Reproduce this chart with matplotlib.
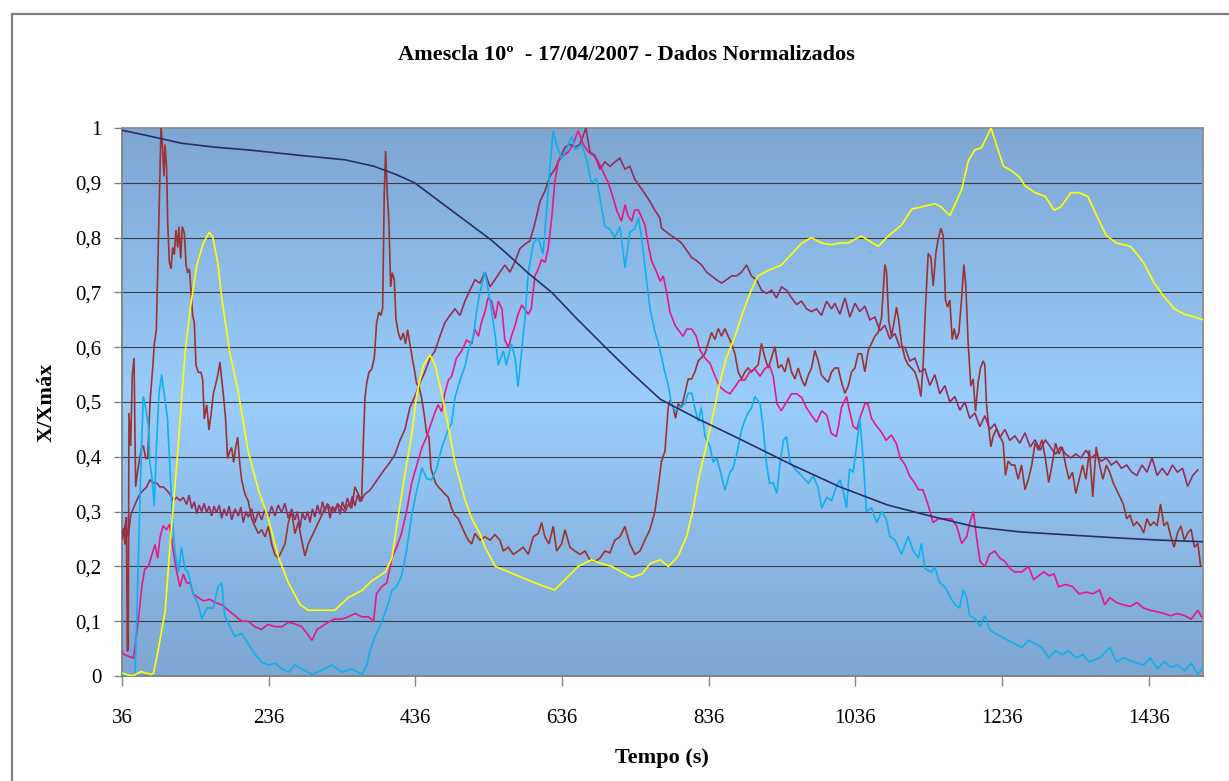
import numpy as np
import matplotlib
matplotlib.use("Agg")
import matplotlib.pyplot as plt
from matplotlib.patches import Rectangle
from matplotlib.colors import LinearSegmentedColormap

plt.rcParams['font.family'] = ['Liberation Serif', 'DejaVu Serif']

# ---------------- data (time in s, normalised value) ----------------
title = "Amescla 10º  - 17/04/2007 - Dados Normalizados"
x_label = "Tempo (s)"
y_label = "X/Xmáx"
x_ticks = [36, 236, 436, 636, 836, 1036, 1236, 1436]
y_ticks = [0, 0.1, 0.2, 0.3, 0.4, 0.5, 0.6, 0.7, 0.8, 0.9, 1.0]
y_tick_labels = ["0", "0,1", "0,2", "0,3", "0,4", "0,5", "0,6", "0,7", "0,8", "0,9", "1"]

navy = [(36, 0.996), (71, 0.986), (118, 0.972), (163, 0.965), (208, 0.96), (279, 0.95),
        (340, 0.942), (380, 0.93), (410, 0.915), (435, 0.9), (460, 0.875), (490, 0.845),
        (517, 0.818), (540, 0.795), (563, 0.768), (590, 0.735), (622, 0.70), (654, 0.655),
        (695, 0.60), (731, 0.553), (770, 0.505), (820, 0.47), (876, 0.434), (950, 0.385),
        (1015, 0.345), (1080, 0.312), (1144, 0.29), (1200, 0.272), (1260, 0.263),
        (1320, 0.258), (1393, 0.252), (1450, 0.248), (1510, 0.245)]

yellow = [(36, 0.005), (50, 0.0), (62, 0.008), (76, 0.003), (79, 0.005), (85, 0.045), (95, 0.12),
          (101, 0.23), (110.6, 0.385), (117, 0.5), (122, 0.59), (129, 0.67), (138, 0.75),
          (147, 0.79), (155, 0.81), (160, 0.8), (167, 0.75), (172, 0.69), (183, 0.59),
          (195, 0.515), (208, 0.41), (222, 0.34), (235, 0.29), (249, 0.218), (263, 0.17),
          (279, 0.13), (290, 0.12), (299, 0.12), (326, 0.12), (344.5, 0.143), (363, 0.156),
          (376, 0.173), (395, 0.19), (404, 0.215), (413, 0.295), (422, 0.37), (431, 0.44),
          (438, 0.515), (447, 0.567), (456, 0.586), (463, 0.567), (472, 0.515), (481, 0.456),
          (490, 0.39), (504, 0.32), (513, 0.287), (524, 0.26), (531, 0.235), (545, 0.2),
          (563, 0.19), (581, 0.18), (599, 0.17), (613, 0.163), (626, 0.157), (640, 0.176),
          (658, 0.2), (676, 0.212), (690, 0.205), (704, 0.2), (717, 0.19), (731, 0.18),
          (745, 0.186), (756, 0.205), (770, 0.212), (781, 0.2), (794, 0.218), (806, 0.255),
          (815, 0.306), (822, 0.358), (831, 0.41), (842, 0.476), (851, 0.535), (860, 0.58),
          (872, 0.62), (883, 0.665), (894, 0.704), (903, 0.73), (917, 0.74), (935, 0.75),
          (949, 0.77), (963, 0.79), (976, 0.80), (990, 0.79), (1003, 0.787), (1015, 0.79),
          (1026, 0.79), (1044, 0.803), (1067, 0.784), (1081, 0.803), (1099, 0.823),
          (1113, 0.852), (1126, 0.856), (1144, 0.862), (1153, 0.856), (1165, 0.84),
          (1181, 0.888), (1190, 0.94), (1199, 0.96), (1208, 0.964), (1221, 1.0), (1231, 0.958),
          (1238, 0.93), (1249, 0.922), (1260, 0.91), (1267, 0.895), (1281, 0.882), (1295, 0.875),
          (1307, 0.85), (1316, 0.856), (1330, 0.882), (1341, 0.882), (1353, 0.875),
          (1364, 0.843), (1378, 0.804), (1392, 0.79), (1411, 0.784), (1420, 0.77),
          (1429, 0.754), (1443, 0.718), (1457, 0.692), (1471, 0.67), (1485, 0.66),
          (1499, 0.655), (1510, 0.65)]

cyan = [(36, 0.0), (45, 0.0), (53.7, 0.0), (56, 0.1), (59.2, 0.26), (62, 0.39), (65, 0.51),
        (68, 0.49), (72, 0.456), (74, 0.39), (77, 0.36), (80, 0.31), (83, 0.42), (86.5, 0.515),
        (90, 0.55), (95, 0.50), (98, 0.47), (101, 0.39), (104.6, 0.29), (108, 0.228),
        (113, 0.19), (117, 0.235), (122, 0.195), (126, 0.19), (133, 0.15), (140, 0.13),
        (145, 0.104), (151.5, 0.124), (160.5, 0.124), (167, 0.163), (172, 0.17), (176, 0.11),
        (183, 0.09), (190, 0.072), (199, 0.078), (208, 0.059), (217, 0.04), (226, 0.026),
        (235, 0.02), (245, 0.023), (254, 0.013), (263, 0.007), (272, 0.02), (281, 0.013),
        (295, 0.003), (308, 0.01), (322, 0.02), (336, 0.007), (349, 0.013), (363, 0.003),
        (370, 0.02), (374, 0.046), (381, 0.072), (390, 0.098), (397, 0.124), (404, 0.156),
        (410.5, 0.163), (417, 0.182), (424, 0.228), (431, 0.293), (438, 0.339), (445, 0.38),
        (451.5, 0.36), (458, 0.358), (465, 0.378), (472, 0.417), (479, 0.443), (485.5, 0.462),
        (490, 0.508), (497, 0.54), (504, 0.567), (508, 0.593), (515, 0.619), (520, 0.67),
        (524, 0.70), (531, 0.737), (538, 0.684), (545, 0.62), (549, 0.567), (556, 0.593),
        (560, 0.567), (567, 0.606), (572, 0.58), (576, 0.528), (581, 0.593), (585, 0.646),
        (590, 0.737), (597, 0.79), (603.5, 0.80), (610, 0.77), (615, 0.848), (619.5, 0.93),
        (624, 0.995), (628.6, 0.97), (635, 0.945), (642, 0.96), (649, 0.985), (654, 0.96),
        (663, 0.97), (670, 0.94), (676, 0.90), (683, 0.908), (688, 0.87), (694.5, 0.82),
        (701, 0.816), (708, 0.80), (715, 0.82), (722, 0.745), (728.5, 0.81), (735, 0.816),
        (740, 0.836), (744.5, 0.80), (751, 0.725), (756, 0.67), (763, 0.626), (767, 0.61),
        (772, 0.58), (776, 0.555), (781, 0.53), (785, 0.497), (790, 0.484), (797, 0.49),
        (803.5, 0.497), (808, 0.516), (813, 0.516), (817, 0.49), (822, 0.464), (826, 0.49),
        (831, 0.437), (838, 0.418), (842, 0.39), (847, 0.398), (851, 0.378), (858, 0.339),
        (865, 0.372), (869, 0.378), (874, 0.404), (881, 0.45), (888, 0.476), (894.5, 0.49),
        (899, 0.51), (906, 0.497), (910, 0.456), (915, 0.385), (919, 0.352), (924, 0.352),
        (929, 0.333), (933, 0.385), (938, 0.43), (942, 0.437), (947, 0.39), (953.5, 0.378),
        (963, 0.365), (972, 0.352), (978.5, 0.365), (985, 0.345), (990, 0.306), (997, 0.326),
        (1003.5, 0.32), (1010, 0.345), (1015, 0.358), (1019, 0.34), (1024, 0.307),
        (1028, 0.378), (1033, 0.372), (1038, 0.424), (1042, 0.47), (1047, 0.39), (1051, 0.3),
        (1058, 0.307), (1065, 0.28), (1072, 0.3), (1078, 0.287), (1083, 0.255), (1090, 0.248),
        (1099, 0.222), (1108, 0.255), (1115, 0.228), (1122, 0.215), (1126, 0.242),
        (1131, 0.196), (1140, 0.19), (1144, 0.2), (1151, 0.17), (1158, 0.163), (1165, 0.144),
        (1172, 0.13), (1178, 0.124), (1183, 0.157), (1187.5, 0.144), (1192, 0.11),
        (1199, 0.104), (1206, 0.09), (1212.5, 0.11), (1219, 0.085), (1226, 0.078),
        (1235, 0.072), (1244, 0.065), (1253, 0.059), (1263, 0.052), (1272, 0.065),
        (1281, 0.059), (1290, 0.052), (1300, 0.033), (1309, 0.046), (1318, 0.039),
        (1327, 0.046), (1337, 0.033), (1346, 0.039), (1355, 0.026), (1369, 0.033),
        (1383, 0.052), (1392, 0.026), (1401, 0.033), (1415, 0.026), (1429, 0.02),
        (1438, 0.033), (1448, 0.013), (1457, 0.026), (1466, 0.016), (1475, 0.02),
        (1485, 0.01), (1494, 0.023), (1503, 0.003), (1510, 0.016)]

magenta = [(36, 0.045), (38, 0.04), (44.6, 0.036), (51.5, 0.033), (53.7, 0.052), (58, 0.098),
           (63, 0.163), (67, 0.195), (72, 0.2), (76.5, 0.22), (81, 0.24), (84.6, 0.215),
           (88, 0.254), (92, 0.274), (97, 0.267), (101, 0.277), (106, 0.228), (110.6, 0.19),
           (115, 0.163), (119.6, 0.186), (124, 0.17), (129, 0.17), (133, 0.15), (140, 0.143),
           (147, 0.137), (156, 0.14), (163, 0.134), (172, 0.13), (181, 0.12), (190, 0.11),
           (199, 0.1), (208, 0.1), (217, 0.09), (226, 0.085), (235, 0.094), (245, 0.09),
           (254, 0.09), (263, 0.098), (272, 0.095), (281, 0.09), (288, 0.078), (295, 0.065),
           (302, 0.085), (308, 0.09), (317, 0.098), (326, 0.104), (336, 0.104), (344.5, 0.108),
           (354, 0.114), (363, 0.108), (372, 0.108), (379, 0.1), (383, 0.15), (390, 0.163),
           (397, 0.17), (404, 0.215), (410.5, 0.235), (417, 0.26), (424, 0.3), (431, 0.352),
           (438, 0.385), (445, 0.417), (451.5, 0.437), (458, 0.463), (463, 0.482), (467, 0.495),
           (472, 0.482), (476, 0.515), (481, 0.54), (485.5, 0.547), (492, 0.58), (499, 0.593),
           (506, 0.613), (513, 0.606), (517, 0.633), (522, 0.62), (526, 0.645), (531, 0.665),
           (535, 0.69), (540, 0.684), (545, 0.652), (549, 0.684), (554, 0.67), (558, 0.613),
           (563, 0.6), (567, 0.62), (572, 0.64), (576, 0.66), (581, 0.677), (585, 0.67),
           (590, 0.66), (594, 0.67), (599, 0.73), (603.5, 0.742), (608, 0.76), (613, 0.755),
           (617, 0.78), (622, 0.836), (626, 0.9), (631, 0.94), (638, 0.95), (644.6, 0.956),
           (651, 0.97), (658, 0.995), (665, 0.97), (672, 0.956), (679, 0.95), (685, 0.94),
           (692, 0.92), (699, 0.9), (704, 0.88), (710.5, 0.85), (717, 0.83), (722, 0.86),
           (726, 0.84), (731, 0.83), (735, 0.85), (740, 0.85), (745, 0.836), (749, 0.823),
           (754, 0.784), (758, 0.758), (765, 0.737), (770, 0.72), (774, 0.73), (779, 0.698),
           (783, 0.665), (790, 0.64), (797, 0.627), (801, 0.62), (806, 0.633), (813, 0.633),
           (819, 0.62), (824, 0.595), (831, 0.58), (838, 0.57), (844.6, 0.547), (851, 0.528),
           (858, 0.52), (865, 0.515), (872, 0.528), (878, 0.54), (885, 0.54), (892, 0.555),
           (899, 0.56), (906, 0.547), (912, 0.56), (919, 0.567), (924, 0.547), (929, 0.497),
           (935, 0.484), (942, 0.5), (949, 0.515), (956, 0.515), (963, 0.508), (969, 0.49),
           (976, 0.476), (983, 0.463), (990, 0.484), (997, 0.476), (1003, 0.443), (1010, 0.437),
           (1013, 0.456), (1017, 0.49), (1024, 0.51), (1028, 0.484), (1033, 0.456), (1038, 0.45),
           (1042, 0.47), (1049, 0.497), (1053, 0.497), (1058, 0.47), (1065, 0.456), (1072, 0.444),
           (1078, 0.43), (1085, 0.44), (1092, 0.424), (1097, 0.398), (1104, 0.385), (1110, 0.365),
           (1117, 0.352), (1122, 0.34), (1128, 0.34), (1135, 0.313), (1142, 0.28), (1149, 0.287),
           (1158, 0.287), (1167, 0.287), (1174, 0.274), (1181, 0.242), (1188, 0.255),
           (1192, 0.28), (1197, 0.3), (1201, 0.255), (1206, 0.209), (1212.5, 0.2), (1219, 0.222),
           (1226, 0.228), (1233, 0.215), (1240, 0.209), (1247, 0.196), (1253, 0.19),
           (1263, 0.19), (1272, 0.2), (1279, 0.176), (1286, 0.183), (1293, 0.19), (1300, 0.183),
           (1307, 0.186), (1313, 0.163), (1323, 0.167), (1332, 0.163), (1341, 0.15),
           (1351, 0.153), (1360, 0.15), (1369, 0.157), (1376, 0.13), (1383, 0.143),
           (1392, 0.134), (1401, 0.13), (1411, 0.127), (1420, 0.134), (1429, 0.124),
           (1438, 0.12), (1448, 0.117), (1457, 0.114), (1466, 0.11), (1475, 0.114),
           (1485, 0.11), (1494, 0.104), (1503, 0.12), (1508, 0.108)]

maroon = [(36, 0.25), (37.8, 0.26), (41, 0.28), (44.6, 0.254), (47.8, 0.293), (51.5, 0.306),
          (56, 0.32), (60.5, 0.332), (65.1, 0.339), (69.6, 0.345), (74.2, 0.358), (78.7, 0.352),
          (83.3, 0.352), (87.8, 0.345), (92.4, 0.345), (96.9, 0.339), (101.4, 0.332),
          (106, 0.32), (110.5, 0.326), (115.1, 0.32), (119.6, 0.326), (124.2, 0.313),
          (127.5, 0.33), (131, 0.306), (134.5, 0.318), (137.8, 0.296), (141, 0.312),
          (144.6, 0.3), (148, 0.315), (151.4, 0.298), (154.8, 0.31), (158.2, 0.292),
          (161.5, 0.31), (165, 0.298), (168.5, 0.312), (171.9, 0.288), (175.3, 0.305),
          (178.7, 0.292), (182, 0.31), (185.5, 0.285), (190, 0.305), (194.6, 0.292),
          (198, 0.308), (201.4, 0.28), (204.8, 0.3), (208.2, 0.29), (212.8, 0.305),
          (217.3, 0.28), (221.9, 0.3), (226.4, 0.285), (231, 0.305), (235.5, 0.288),
          (240, 0.31), (244.6, 0.292), (249, 0.312), (253.7, 0.298), (258, 0.315),
          (262.8, 0.288), (267.3, 0.305), (271.9, 0.285), (275, 0.3), (278.7, 0.27),
          (282, 0.298), (285.5, 0.285), (289, 0.3), (292.3, 0.28), (295.7, 0.305),
          (299.1, 0.29), (302.5, 0.312), (306, 0.295), (309.4, 0.318), (312.7, 0.3),
          (316, 0.315), (319.6, 0.288), (323, 0.31), (326.4, 0.298), (329.8, 0.315),
          (333.2, 0.295), (336.6, 0.318), (340, 0.305), (343.4, 0.325), (346.8, 0.31),
          (350.2, 0.328), (353.6, 0.31), (357, 0.33), (360.5, 0.318),
          (367.3, 0.332), (374.1, 0.339), (380.9, 0.352),
          (387.7, 0.365), (394.5, 0.378), (401.4, 0.39), (408.2, 0.404), (415, 0.43),
          (421.8, 0.45), (428.6, 0.49), (435.4, 0.51), (442.3, 0.535), (449.1, 0.555),
          (455.9, 0.58), (462.7, 0.593), (469.5, 0.62), (476.3, 0.645), (483.1, 0.658),
          (490, 0.67), (496.8, 0.658), (503.6, 0.684), (510.4, 0.704), (517.3, 0.723),
          (524.1, 0.717), (530.9, 0.737), (537.7, 0.71), (544.5, 0.723), (551.3, 0.737),
          (558.1, 0.75), (565, 0.737), (571.8, 0.756), (578.6, 0.78), (585.4, 0.788),
          (592.2, 0.794), (599, 0.826), (605.9, 0.866), (612.7, 0.885), (619.5, 0.912),
          (626.3, 0.925), (633.1, 0.945), (640, 0.965), (646.8, 0.97), (653.6, 0.965),
          (660.4, 0.97), (668.6, 1.0), (674, 0.956), (680.8, 0.95), (687.7, 0.925),
          (694.5, 0.938), (701.3, 0.93), (708.1, 0.938), (714.9, 0.945), (721.7, 0.925),
          (728.5, 0.93), (735.4, 0.906), (742.2, 0.893), (749, 0.88), (755.8, 0.866),
          (762.6, 0.85), (769.4, 0.836), (771.7, 0.817), (778.5, 0.81), (785.4, 0.803),
          (792.2, 0.797), (799, 0.79), (805.8, 0.777), (812.6, 0.764), (819.4, 0.758),
          (826.3, 0.75), (833.1, 0.737), (839.9, 0.73), (846.7, 0.723), (853.5, 0.717),
          (860.3, 0.723), (867.2, 0.73), (874, 0.73), (880.8, 0.737), (887.6, 0.75),
          (894.4, 0.73), (901.2, 0.723), (908, 0.704), (914.9, 0.698), (921.7, 0.704),
          (928.5, 0.69), (935.3, 0.71), (942.1, 0.704), (948.9, 0.69), (955.8, 0.678),
          (962.6, 0.684), (969.4, 0.67), (976.2, 0.665), (983, 0.67), (989.8, 0.658),
          (996.7, 0.684), (1003.5, 0.67), (1008, 0.68), (1014.8, 0.66), (1021.7, 0.69),
          (1028.5, 0.655), (1035.3, 0.68), (1042.1, 0.665), (1048.9, 0.675), (1055.7, 0.65),
          (1062.6, 0.655), (1069.4, 0.63), (1076.2, 0.64), (1083, 0.615), (1089.8, 0.625),
          (1096.6, 0.60), (1103.4, 0.60), (1110.3, 0.575), (1117.1, 0.58), (1123.9, 0.555),
          (1130.7, 0.56), (1137.5, 0.53), (1144.3, 0.55), (1151.2, 0.515), (1158, 0.53),
          (1164.8, 0.50), (1171.6, 0.51), (1178.4, 0.485), (1185.2, 0.5), (1192, 0.47),
          (1198.9, 0.48), (1205.7, 0.455), (1212.5, 0.475), (1219.3, 0.45), (1226.1, 0.46),
          (1233, 0.435), (1239.8, 0.45), (1246.6, 0.43), (1253.4, 0.438), (1260.3, 0.425),
          (1267.3, 0.444), (1274.2, 0.418), (1281.1, 0.431), (1288.1, 0.412), (1295, 0.431),
          (1301.9, 0.418), (1308.9, 0.405), (1315.8, 0.418), (1322.7, 0.405), (1329.6, 0.398),
          (1336.6, 0.405), (1343.5, 0.398), (1350.4, 0.412), (1357.4, 0.398), (1364.3, 0.405),
          (1371.2, 0.392), (1378.2, 0.398), (1385.1, 0.385), (1392, 0.392), (1398.9, 0.379),
          (1405.9, 0.385), (1412.8, 0.372), (1419.8, 0.366), (1426.7, 0.385), (1433.6, 0.372),
          (1440.5, 0.398), (1447.5, 0.366), (1454.4, 0.379), (1461.3, 0.366), (1468.3, 0.385),
          (1475.2, 0.372), (1482.1, 0.379), (1489.1, 0.346), (1496, 0.366), (1502.9, 0.376)]

brown = [(36, 0.25), (38, 0.27), (40.1, 0.24), (42, 0.29), (43.3, 0.045), (44.5, 0.05),
         (45.5, 0.48), (47.8, 0.42), (50.1, 0.55), (52.4, 0.58), (54.6, 0.345), (56.9, 0.37),
         (59.2, 0.39), (62.8, 0.417), (65.1, 0.42), (68.3, 0.397), (71, 0.397), (74.2, 0.5),
         (77.4, 0.554), (80.1, 0.606), (82.8, 0.632), (84.6, 0.736), (86.9, 0.866), (89.2, 1.0),
         (91, 0.97), (93.3, 0.912), (94.6, 0.97), (96.9, 0.925), (98.3, 0.827), (100.5, 0.756),
         (102.8, 0.743), (105.1, 0.782), (107.3, 0.769), (109.6, 0.814), (111.9, 0.782),
         (113.7, 0.82), (116, 0.762), (118.2, 0.82), (121, 0.808), (123.3, 0.75), (125.5, 0.736),
         (127.8, 0.743), (130.1, 0.704), (132.3, 0.658), (134.6, 0.645), (136.9, 0.567),
         (140.1, 0.554), (143.7, 0.554), (146, 0.541), (148.2, 0.469), (151.4, 0.495),
         (154.6, 0.449), (157.3, 0.476), (160.5, 0.515), (164.1, 0.534), (167.3, 0.554),
         (169.6, 0.573), (171.9, 0.541), (174.1, 0.515), (177.3, 0.469), (180, 0.397),
         (182.8, 0.41), (185.5, 0.417), (188.2, 0.39), (191, 0.417), (193.7, 0.436),
         (196.4, 0.39), (199.1, 0.358), (203.7, 0.332), (208.2, 0.319), (212.8, 0.287),
         (217.3, 0.273), (221.9, 0.26), (226.4, 0.267), (231, 0.254), (235.5, 0.273),
         (240, 0.241), (244.6, 0.221), (249.1, 0.215), (253.7, 0.228), (258.2, 0.241),
         (262.8, 0.28), (267.3, 0.3), (271.8, 0.26), (276.4, 0.28), (281, 0.248),
         (285.5, 0.219), (290, 0.241), (294.6, 0.254), (299.1, 0.267), (303.7, 0.28),
         (308.2, 0.293), (312.7, 0.306), (317.3, 0.313), (321.8, 0.3), (326.4, 0.306),
         (330.9, 0.313), (335.5, 0.306), (340, 0.3), (344.6, 0.313), (349.1, 0.306),
         (353.6, 0.345), (358.2, 0.332), (362.7, 0.319), (365, 0.423), (367.3, 0.508),
         (369.6, 0.534), (372.7, 0.554), (376.4, 0.56), (380, 0.58), (383.2, 0.645),
         (386.4, 0.664), (389.1, 0.658), (391.4, 0.671), (393.6, 0.88), (395.4, 0.958),
         (397.7, 0.88), (400, 0.827), (402.3, 0.71), (404.5, 0.736), (407.3, 0.723),
         (409.5, 0.652), (412.7, 0.626), (416.3, 0.613), (419.5, 0.626), (422.7, 0.606),
         (425.4, 0.632), (428.6, 0.606), (431.8, 0.58), (434.5, 0.56), (437.7, 0.534),
         (440.9, 0.528), (444.5, 0.508), (448.2, 0.476), (451.3, 0.443), (454.5, 0.436),
         (457.3, 0.378), (460.4, 0.365), (463.6, 0.352), (467.2, 0.345), (471.8, 0.339),
         (476.3, 0.332), (480.9, 0.326), (485.4, 0.306), (490, 0.293), (494.5, 0.287),
         (499.1, 0.273), (503.6, 0.26), (508.1, 0.248), (512.7, 0.241), (517.2, 0.26),
         (524.1, 0.248), (530.9, 0.254), (537.7, 0.248), (544.5, 0.258), (551.3, 0.248),
         (555.9, 0.228), (562.7, 0.235), (569.5, 0.222), (576.3, 0.228), (583.1, 0.235),
         (590, 0.222), (596.8, 0.254), (603.6, 0.26), (608.1, 0.28), (612.7, 0.254),
         (618.1, 0.241), (624, 0.273), (628.6, 0.228), (635.4, 0.241), (640, 0.267),
         (646.8, 0.235), (653.6, 0.228), (660.4, 0.222), (667.2, 0.228), (674, 0.212),
         (680.8, 0.209), (687.7, 0.215), (694.5, 0.228), (701.3, 0.225), (708.1, 0.248),
         (714.9, 0.254), (721.7, 0.273), (728.5, 0.241), (735.4, 0.222), (742.2, 0.228),
         (749, 0.248), (755.8, 0.267), (762.6, 0.3), (767.2, 0.345), (771.7, 0.392),
         (776.3, 0.41), (780.8, 0.49), (783.1, 0.503), (787.6, 0.49), (790.8, 0.47),
         (794.4, 0.497), (799, 0.49), (803.5, 0.516), (808.1, 0.542), (812.6, 0.542),
         (817.2, 0.555), (821.7, 0.575), (826.3, 0.581), (830.8, 0.588), (835.3, 0.607),
         (839.9, 0.627), (844.4, 0.614), (849, 0.634), (853.5, 0.62), (858.1, 0.634),
         (862.6, 0.62), (867.2, 0.607), (871.7, 0.588), (876.2, 0.555), (880.8, 0.542),
         (885.3, 0.555), (889.9, 0.562), (894.4, 0.555), (899, 0.562), (903.5, 0.568),
         (908, 0.607), (912.6, 0.581), (917.1, 0.562), (921.7, 0.581), (926.2, 0.601),
         (930.8, 0.562), (935.3, 0.568), (939.9, 0.555), (944.4, 0.581), (948.9, 0.555),
         (953.5, 0.542), (958, 0.562), (962.6, 0.542), (967.1, 0.529), (971.7, 0.549),
         (976.2, 0.562), (980.8, 0.594), (985.3, 0.575), (989.8, 0.549), (994.4, 0.542),
         (998.9, 0.536), (1003.5, 0.555), (1008, 0.562), (1012.6, 0.562), (1017.1, 0.536),
         (1021.7, 0.516), (1026.2, 0.529), (1030.8, 0.555), (1035.3, 0.562), (1039.8, 0.588),
         (1044.4, 0.588), (1048.9, 0.555), (1053.5, 0.594), (1058, 0.607), (1062.6, 0.62),
         (1067.1, 0.627), (1071.6, 0.653), (1076.2, 0.751), (1078.5, 0.738), (1081.6, 0.647),
         (1085.3, 0.62), (1088.9, 0.647), (1092.1, 0.673), (1095.3, 0.647), (1098.9, 0.607),
         (1103.4, 0.581), (1108, 0.568), (1112.5, 0.562), (1117.1, 0.555), (1121.6, 0.536),
         (1125.3, 0.51), (1128.4, 0.568), (1131.6, 0.673), (1135.3, 0.771), (1138.9, 0.764),
         (1142.1, 0.712), (1145.7, 0.771), (1148.9, 0.797), (1152.5, 0.817), (1155.7, 0.804),
         (1158.9, 0.686), (1161.6, 0.673), (1164.8, 0.686), (1168, 0.614), (1170.7, 0.634),
         (1173.9, 0.614), (1177.1, 0.627), (1180.7, 0.686), (1183.9, 0.751), (1186.6, 0.712),
         (1189.8, 0.607), (1193.4, 0.529), (1196.6, 0.542), (1199.8, 0.483), (1203.4, 0.536),
         (1206.6, 0.562), (1210.2, 0.575), (1212.5, 0.568), (1214.8, 0.496), (1218, 0.451),
         (1220.7, 0.418), (1223.9, 0.438), (1228.4, 0.451), (1233, 0.438), (1237.5, 0.425),
         (1240.7, 0.366), (1244.3, 0.392), (1248.9, 0.385), (1253.4, 0.385), (1258, 0.359),
         (1262.6, 0.385), (1267.3, 0.34), (1271.9, 0.359), (1276.5, 0.385), (1281.1, 0.425),
         (1285.7, 0.412), (1290.4, 0.431), (1295, 0.398), (1299.6, 0.353), (1304.2, 0.385),
         (1308.9, 0.425), (1313.5, 0.405), (1318.1, 0.418), (1322.7, 0.385), (1327.3, 0.359),
         (1332, 0.372), (1336.6, 0.333), (1341.2, 0.359), (1345.8, 0.385), (1350.4, 0.359),
         (1355.1, 0.412), (1359.7, 0.327), (1364.3, 0.418), (1368.9, 0.385), (1373.5, 0.359),
         (1378.2, 0.385), (1382.8, 0.372), (1387.4, 0.353), (1392, 0.34), (1396.7, 0.327),
         (1401.3, 0.314), (1405.9, 0.287), (1410.5, 0.294), (1415.1, 0.274), (1419.8, 0.281),
         (1424.4, 0.274), (1429, 0.261), (1433.6, 0.287), (1438.2, 0.274), (1442.9, 0.281),
         (1447.5, 0.274), (1452.1, 0.314), (1456.7, 0.274), (1461.3, 0.281), (1466, 0.255),
         (1470.6, 0.235), (1475.2, 0.261), (1479.8, 0.274), (1484.5, 0.248), (1489.1, 0.261),
         (1493.7, 0.268), (1498.3, 0.235), (1503, 0.242), (1506.6, 0.202)]

series = [
    (brown, '#9C3333'),
    (maroon, '#952F5A'),
    (magenta, '#E6198A'),
    (cyan, '#10B0EE'),
    (yellow, '#FFFF00'),
    (navy, '#2D2D6A'),
]

# ---------------- figure ----------------
W, H = 1229, 781
fig = plt.figure(figsize=(W / 100, H / 100), dpi=100)
fig.patch.set_facecolor('white')

# outer chart border (cut at right / bottom as in the reference)
fig.patches.append(Rectangle((12 / W, -0.05), 1.1, 1 - 14 / H + 0.05,
                             transform=fig.transFigure, fill=False,
                             edgecolor='#7F7F7F', linewidth=1.6))

L, R, T, B = 122, 1203, 128, 676
ax = fig.add_axes([L / W, 1 - B / H, (R - L) / W, (B - T) / H])

# gradient background: darker at top/bottom, light in the middle
cmap = LinearSegmentedColormap.from_list('bg', ['#7EA6D2', '#9ACDFC', '#7EA6D2'])
grad = np.linspace(0, 1, 256).reshape(-1, 1)
ax.imshow(grad, extent=[0, 1, 0, 1], transform=ax.transAxes, aspect='auto',
          cmap=cmap, zorder=0, interpolation='bilinear')

ax.set_xlim(36, 1510)
ax.set_ylim(0, 1)
for yv in y_ticks[1:-1]:
    ax.axhline(yv, color='#3F3F3F', linewidth=0.8, zorder=1)

for data, col in series:
    t, v = zip(*data)
    ax.plot(t, v, color=col, linewidth=1.2, zorder=3, solid_joinstyle='miter')

ax.set_yticks(y_ticks)
ax.set_yticklabels(y_tick_labels)
ax.set_xticks(x_ticks)
ax.set_xticklabels([str(x) for x in x_ticks])
ax.tick_params(axis='y', direction='out', length=6, width=1, color='#808080',
               pad=9, labelsize=15)
ax.tick_params(axis='x', direction='out', length=7, width=1, color='#808080',
               pad=17, labelsize=15)
for s in ax.spines.values():
    s.set_color('#8C8C8C')
    s.set_linewidth(1.3)
ax.spines['bottom'].set_color('#7F7F7F')
ax.spines['left'].set_color('#7F7F7F')

fig.text(626 / W, 1 - 55 / H, title, ha='center', va='center',
         fontsize=16, fontweight='bold')
fig.text(662 / W, 1 - 758 / H, x_label, ha='center', va='center',
         fontsize=16, fontweight='bold')
fig.text(47 / W, 1 - 402 / H, y_label, ha='center', va='center', rotation=90,
         fontsize=16, fontweight='bold')

fig.savefig('out.png', dpi=100)
